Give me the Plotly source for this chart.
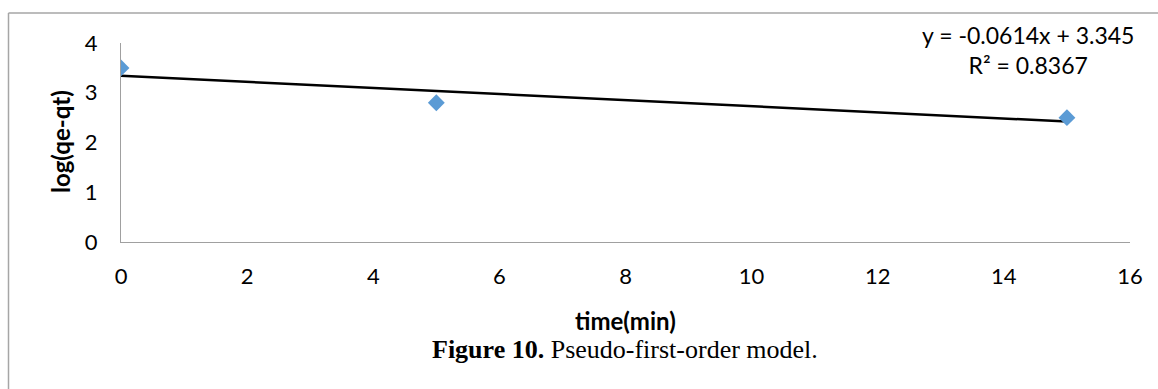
import numpy as np
import plotly.graph_objects as go

time_min = [0, 5, 15]
log_qe_qt = [3.5, 2.8, 2.5]
x_ticks = [0, 2, 4, 6, 8, 10, 12, 14, 16]
y_ticks = [0, 1, 2, 3, 4]
eq_text = "y = -0.0614x + 3.345<br>R² = 0.8367"
x_title = "time(min)"
y_title = "log(qe-qt)"
caption = "<b>Figure 10.</b> Pseudo-first-order model."

W, H = 1158, 389
L, R, T, B = 121, 28, 43, 147
pw, ph = W - L - R, H - T - B

def px(x):
    return (x - L) / pw

def py(y):
    return (H - B - y) / ph

slope, intercept = np.polyfit(time_min, log_qe_qt, 1)
fit_x = [min(time_min), max(time_min)]
fit_y = [slope * v + intercept for v in fit_x]

fig = go.Figure()
fig.add_trace(go.Scatter(x=fit_x, y=fit_y, mode="lines",
                         line=dict(color="black", width=2.5), showlegend=False))
fig.add_trace(go.Scatter(x=time_min, y=log_qe_qt, mode="markers",
                         marker=dict(symbol="diamond", size=13, color="#5B9BD5"),
                         showlegend=False))

font_sans = "Lato"
fig.update_layout(
    width=W, height=H,
    margin=dict(l=L, r=R, t=T, b=B),
    paper_bgcolor="white", plot_bgcolor="white",
    xaxis=dict(range=[0, 16], tickvals=x_ticks, showgrid=False, zeroline=False,
               showline=True, linecolor="#A0A0A0", linewidth=1, ticks="",
               ticklabelstandoff=15,
               tickfont=dict(family=font_sans, size=22, color="black")),
    yaxis=dict(range=[0, 4], tickvals=y_ticks, showgrid=False, zeroline=False,
               showline=True, linecolor="#A0A0A0", linewidth=1, ticks="",
               ticklabelstandoff=18,
               tickfont=dict(family=font_sans, size=22, color="black")),
    annotations=[
        dict(xref="paper", yref="paper", x=px(1028), y=py(50), text=eq_text,
             showarrow=False, align="center", xanchor="center", yanchor="middle",
             font=dict(family=font_sans, size=23, color="black")),
        dict(xref="paper", yref="paper", x=px(625), y=py(320), text="<b>" + x_title + "</b>",
             showarrow=False, xanchor="center", yanchor="middle",
             font=dict(family=font_sans, size=24, color="black")),
        dict(xref="paper", yref="paper", x=px(60), y=py(142), text="<b>" + y_title + "</b>",
             showarrow=False, textangle=-90, xanchor="center", yanchor="middle",
             font=dict(family=font_sans, size=24, color="black")),
        dict(xref="paper", yref="paper", x=px(625), y=py(349), text=caption,
             showarrow=False, xanchor="center", yanchor="middle",
             font=dict(family="Liberation Serif", size=26, color="black")),
    ],
    shapes=[
        dict(type="line", xref="paper", yref="paper", x0=px(8.5), x1=px(8.5),
             y0=py(13), y1=py(H + 2), line=dict(color="#A6A6A6", width=1.5)),
        dict(type="line", xref="paper", yref="paper", x0=px(8.5), x1=px(W + 2),
             y0=py(13), y1=py(13), line=dict(color="#A6A6A6", width=1.5)),
    ],
)
fig.write_html("out.html")
